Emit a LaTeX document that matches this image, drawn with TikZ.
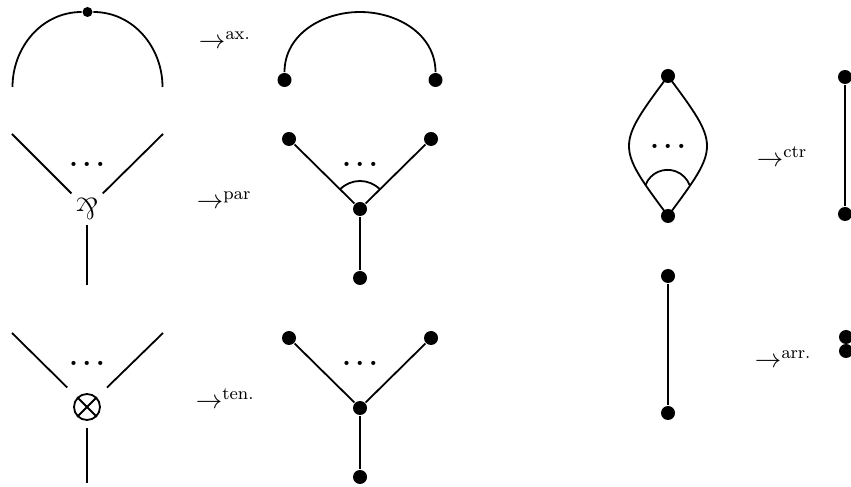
\documentclass[tikz,border=0pt]{standalone}
\usepackage{graphicx}
\newcommand{\mydots}{\bfseries.\kern2.2pt.\kern2.2pt.}
\newcommand{\arrlab}[1]{\scalebox{1.1}{$\rightarrow^{\mathrm{#1}}$}}
\begin{document}
\begin{tikzpicture}[x=0.5pt,y=0.5pt,line width=0.9pt,
  font=\fontsize{12}{14}\selectfont,
  dot/.style={circle,fill=black,inner sep=0pt,minimum size=7pt},
  smalldot/.style={circle,fill=black,inner sep=0pt,minimum size=5pt},
  lbl/.style={anchor=base west,inner sep=0pt},
  ell/.style={inner sep=0pt,font=\fontsize{14.4}{17}\selectfont}]
\useasboundingbox (0,0) rectangle (851,487);
\clip (0,0) rectangle (851,487);

% ---- axiom ----
\coordinate (axL) at (12.5,400);
\coordinate (axR) at (162.5,400);
\node[smalldot] (axtop) at (87.5,475) {};
\draw (axL) to[out=90,in=180] (axtop) to[out=0,in=90] (axR);
\node[lbl] (axarrow) at (198,438) {\arrlab{ax.}};
\node[dot] (axA) at (284.5,407) {};
\node[dot] (axB) at (435.5,407) {};
\coordinate (axApex) at (360,475);
\draw (axA) to[out=90,in=180] (axApex) to[out=0,in=90] (axB);

% ---- par ----
\coordinate (parTL) at (12,353);
\coordinate (parTR) at (163,353);
\coordinate (parBot) at (87,202);
\node[inner sep=1.8pt] (par) at (87,278) {\scalebox{1.25}{\rotatebox[origin=c]{180}{\&}}};
\node[ell] (pardots) at (87,323) {\mydots};
\draw (parTL) -- (par);
\draw (parTR) -- (par);
\draw (par) -- (parBot);
\node[lbl] (pararrow) at (196,278) {\arrlab{par}};
\node[dot] (pA) at (289,348) {};
\node[dot] (pB) at (431,348) {};
\node[dot] (pC) at (360,278) {};
\node[dot] (pD) at (360,209) {};
\node[ell] (pRdots) at (360,323) {\mydots};
\draw (pA) -- (pC) -- (pB);
\draw (pC) -- (pD);
\draw ([shift={(45:14pt)}]pC.center) arc[start angle=45,end angle=135,radius=14pt];

% ---- tensor ----
\coordinate (tenTL) at (12,154);
\coordinate (tenTR) at (163,154);
\coordinate (tenBot) at (87,4);
\node[circle,draw,inner sep=0pt,minimum size=13pt] (ten) at (87,80) {};
\draw (ten.45) -- (ten.225);
\draw (ten.135) -- (ten.315);
\node[ell] (tendots) at (87,124) {\mydots};
\draw[shorten >=7pt] (tenTL) -- (ten);
\draw[shorten >=7pt] (tenTR) -- (ten);
\draw[shorten <=3.5pt] (ten) -- (tenBot);
\node[lbl] (tenarrow) at (195,78) {\arrlab{ten.}};
\node[dot] (tA) at (289,149) {};
\node[dot] (tB) at (431,149) {};
\node[dot] (tC) at (360,79) {};
\node[dot] (tD) at (360,10) {};
\node[ell] (tRdots) at (360,124) {\mydots};
\draw (tA) -- (tC) -- (tB);
\draw (tC) -- (tD);

% ---- contraction ----
\node[dot] (cT) at (668,411) {};
\node[dot] (cB) at (668,271) {};
\draw (cT.center) .. controls (616,341) .. (cB.center);
\draw (cT.center) .. controls (720,341) .. (cB.center);
\node[ell] (cdots) at (668,341) {\mydots};
\coordinate (cArc) at (645.5,302);
\draw (cArc) arc[start angle=159,end angle=21,radius=11.8pt];
\node[lbl] (ctrarrow) at (756,320) {\arrlab{ctr}};
\node[dot] (rT) at (845,410) {};
\node[dot] (rB) at (845,273) {};
\draw (rT) -- (rB);

% ---- arrow ----
\node[dot] (aT) at (668,211) {};
\node[dot] (aB) at (668,74) {};
\draw (aT) -- (aB);
\node[lbl] (arrarrow) at (754,119) {\arrlab{arr.}};
\node[dot] (aR1) at (846,150) {};
\node[dot] (aR2) at (846,136) {};
\end{tikzpicture}
\end{document}
